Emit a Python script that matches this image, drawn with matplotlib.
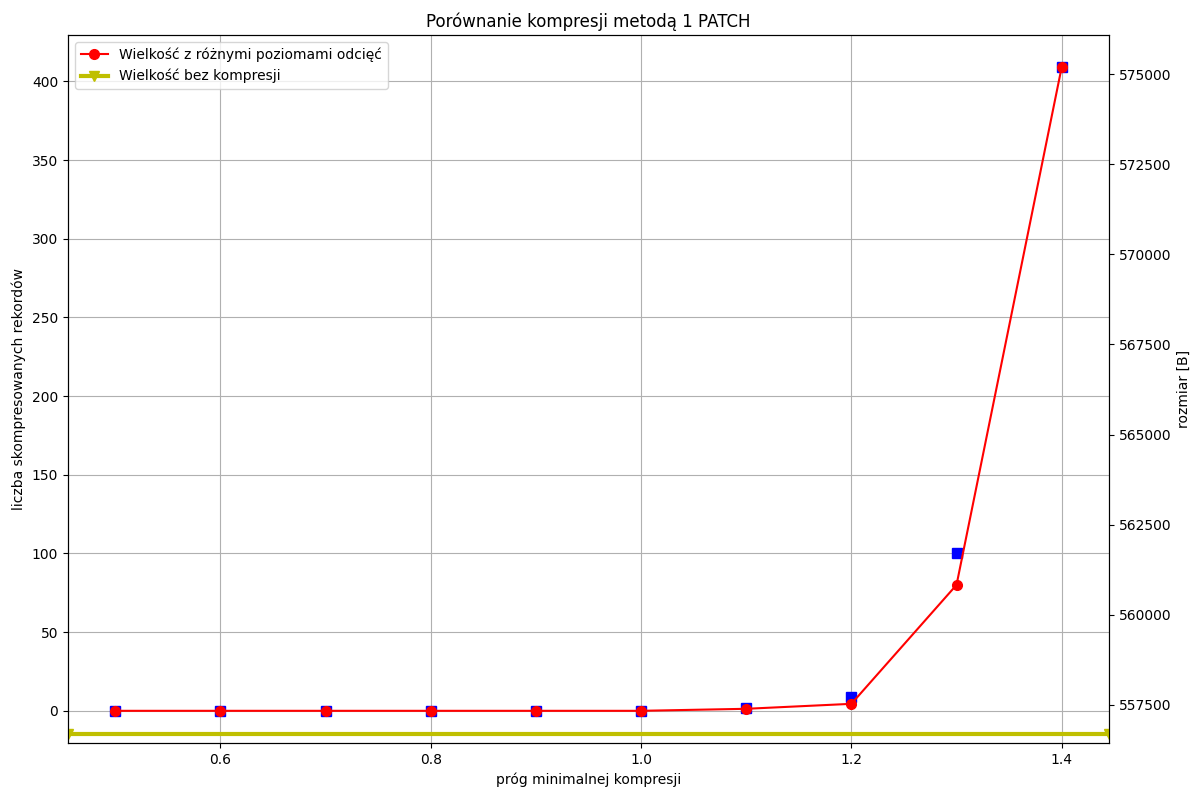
import matplotlib
matplotlib.use("Agg")
import matplotlib.pyplot as plt

progi = [0.5, 0.6, 0.7, 0.8, 0.9, 1.0, 1.1, 1.2, 1.3, 1.4]
liczba_rekordow = [0, 0, 0, 0, 0, 0, 2, 9, 100, 409]
rozmiar = [557334, 557334, 557334, 557334, 557334, 557334, 557390, 557528, 560828, 575194]
rozmiar_bez_kompresji = 556696

fig = plt.figure(figsize=(11.92, 7.89), dpi=100)
ax1 = fig.add_axes([68/1192, 1-743/789, (1109-68)/1192, (743-35)/789])
ax1.plot(progi, liczba_rekordow, 'bs', markersize=7)
ax1.set_xlabel('próg minimalnej kompresji')
ax1.set_ylabel('liczba skompresowanych rekordów')
ax1.grid(True)
ax1.set_title('Porównanie kompresji metodą 1 PATCH', fontsize=12)

ax2 = ax1.twinx()
ax2.plot(progi, rozmiar, 'r-o', markersize=7, label='Wielkość z różnymi poziomami odcięć')
ax2.axhline(rozmiar_bez_kompresji, color='y', marker='v', linewidth=3, markersize=7,
            label='Wielkość bez kompresji')
ax2.set_ylabel('rozmiar [B]')
ax2.set_ylim(556441, 576087)
ax1.set_ylim(-20.45, 429.45)
ax1.set_xlim(0.455, 1.445)
ax2.legend(loc='upper left')

fig.savefig('out.png', dpi=100)
